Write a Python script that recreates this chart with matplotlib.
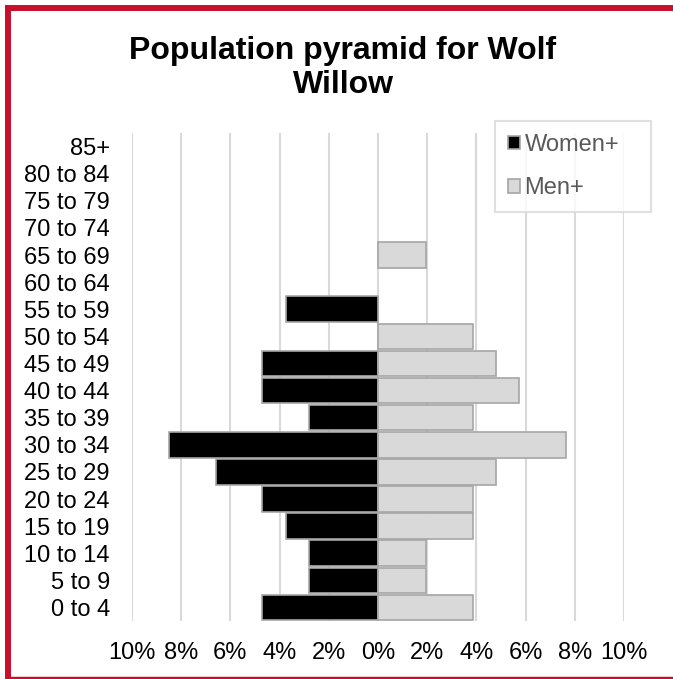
import matplotlib.pyplot as plt
from matplotlib.lines import Line2D
from matplotlib.patches import Patch

# Age groups, bottom to top
age_groups = ["0 to 4", "5 to 9", "10 to 14", "15 to 19", "20 to 24", "25 to 29",
              "30 to 34", "35 to 39", "40 to 44", "45 to 49", "50 to 54", "55 to 59",
              "60 to 64", "65 to 69", "70 to 74", "75 to 79", "80 to 84", "85+"]
# Shares of total population (%)
women = [4.7, 2.8, 2.8, 3.75, 4.7, 6.6, 8.5, 2.8, 4.7, 4.7, 0, 3.75, 0, 0, 0, 0, 0, 0]
men = [3.85, 1.95, 1.95, 3.85, 3.85, 4.8, 7.65, 3.85, 5.75, 4.8, 3.85, 0, 0, 1.95, 0, 0, 0, 0]
x_ticks = [-10, -8, -6, -4, -2, 0, 2, 4, 6, 8, 10]

plt.rcParams["font.family"] = ["Liberation Sans", "DejaVu Sans"]

W, H = 673, 679
fig = plt.figure(figsize=(W / 100, H / 100), dpi=100)
ax = fig.add_axes([132 / W, 1 - 621 / H, (624 - 132) / W, (621 - 133) / H])

y = list(range(len(age_groups)))
edge = "#a6a6a6"
# no outline on empty bars, otherwise a stray line shows at 0
ax.barh(y, [-v for v in women], height=0.94, color="#000000", edgecolor=edge,
        linewidth=[1.2 if v else 0 for v in women], zorder=3, label="Women+")
ax.barh(y, men, height=0.94, color="#d9d9d9", edgecolor=edge,
        linewidth=[1.2 if v else 0 for v in men], zorder=3, label="Men+")

ax.set_xlim(-10, 10)
ax.set_ylim(-0.5, len(age_groups) - 0.5)
ax.set_xticks(x_ticks)
ax.set_xticklabels([f"{abs(t)}%" for t in x_ticks])
ax.set_yticks(y)
ax.set_yticklabels(age_groups)
ax.tick_params(axis="x", length=0, pad=15, labelsize=17)
ax.tick_params(axis="y", length=0, pad=16, labelsize=17)
ax.grid(axis="x", color="#d9d9d9", linewidth=1.5, zorder=0)
for s in ax.spines.values():
    s.set_visible(False)

fig.text(343 / W, 1 - 68 / H, "Population pyramid for Wolf\nWillow",
         ha="center", va="center", fontsize=23, fontweight="bold", linespacing=1.2)

handles = [Patch(facecolor="#000000", edgecolor=edge, linewidth=1.2),
           Patch(facecolor="#d9d9d9", edgecolor=edge, linewidth=1.2)]
leg = fig.legend(handles, ["Women+", "Men+"], loc="upper left",
                 bbox_to_anchor=(495 / W, 1 - 211 / H, 156 / W, 90 / H),
                 mode="expand", fontsize=17, handlelength=0.5, handleheight=0.5,
                 handletextpad=0.2, labelspacing=0.9, borderpad=0.55,
                 borderaxespad=0, fancybox=False, edgecolor="#d9d9d9")
leg.get_frame().set_linewidth(1.5)
for t in leg.get_texts():
    t.set_color("#595959")

# red frame around the chart
red = "#c8102e"
fig.add_artist(Line2D([8 / W, 8 / W], [0, 1 - 5 / H], color=red, linewidth=4.3,
                      transform=fig.transFigure, solid_capstyle="butt"))
fig.add_artist(Line2D([5 / W, 1], [1 - 8 / H, 1 - 8 / H], color=red, linewidth=4.3,
                      transform=fig.transFigure, solid_capstyle="butt"))
fig.add_artist(Line2D([5 / W, 1], [1 - 677.5 / H, 1 - 677.5 / H], color=red,
                      linewidth=2.5, transform=fig.transFigure, solid_capstyle="butt"))

fig.savefig("out.png", dpi=100)
